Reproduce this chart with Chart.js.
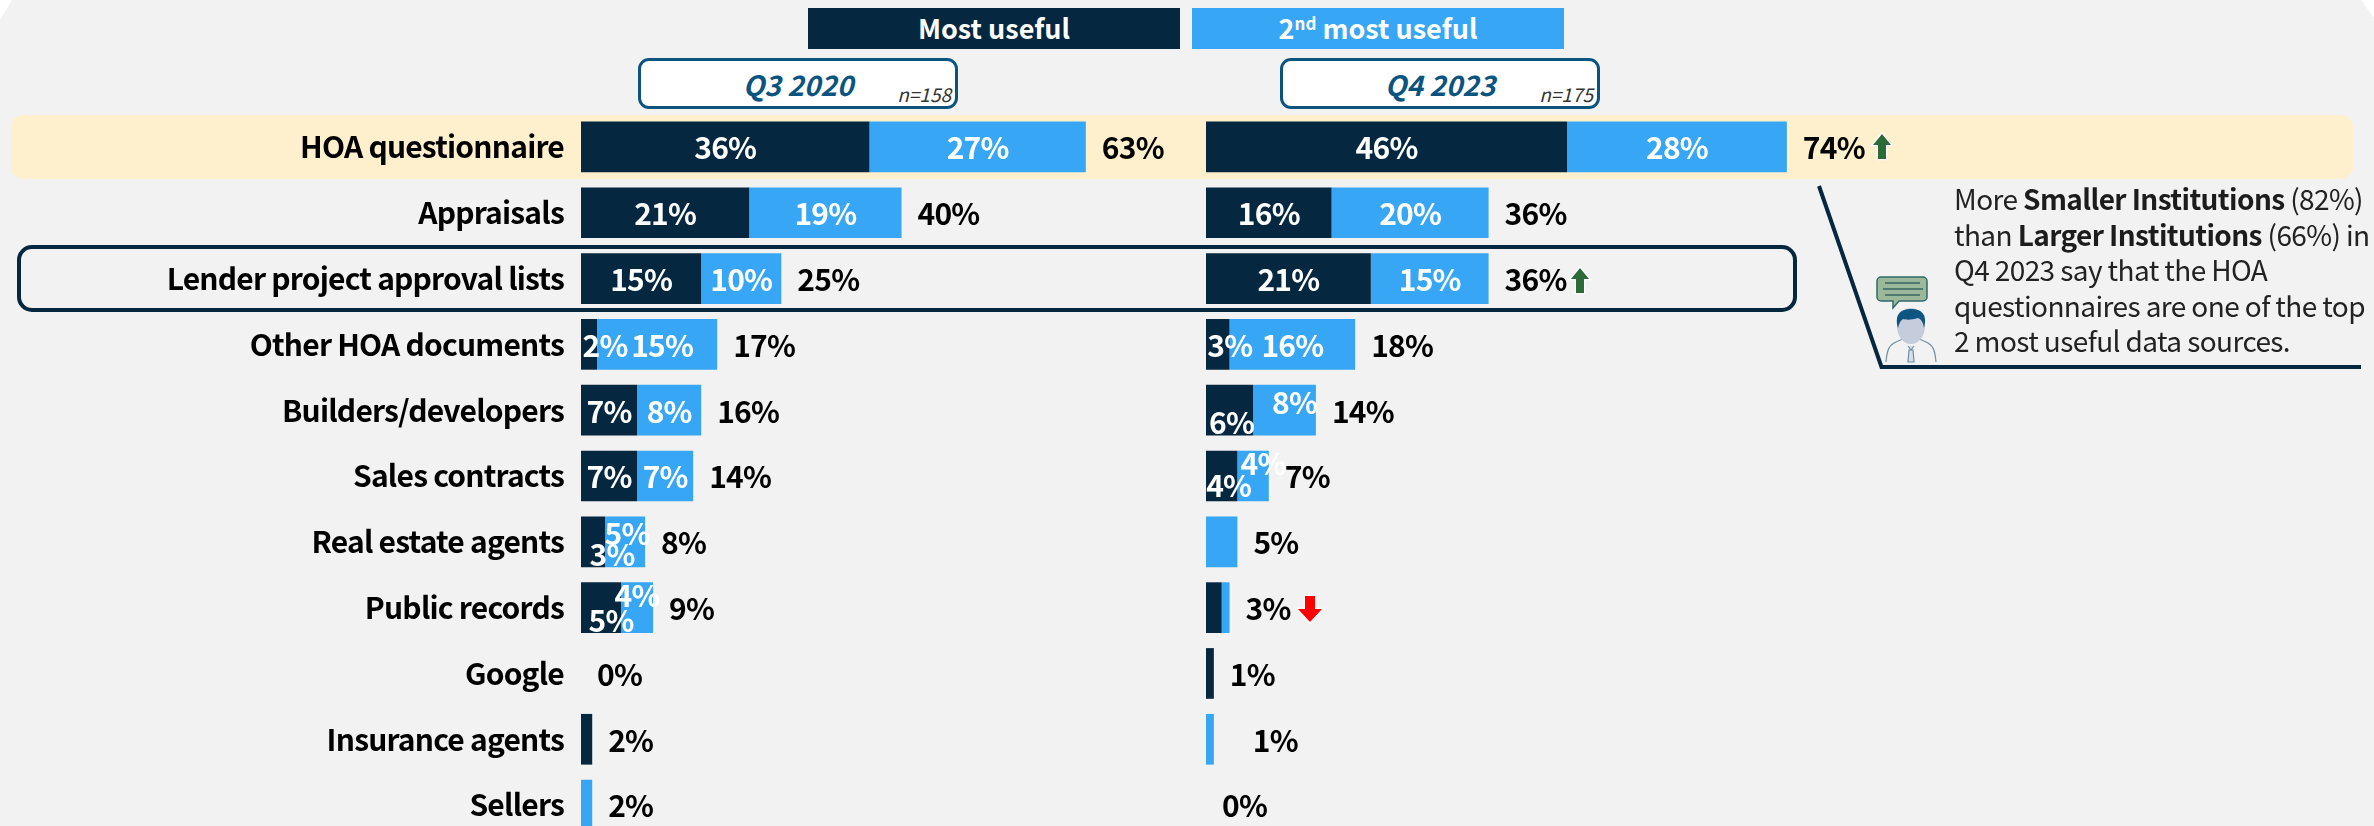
<!DOCTYPE html>
<html>
<head>
<meta charset="utf-8">
<script src="https://cdn.jsdelivr.net/npm/chart.js@4"></script>
<style>
  html, body { margin: 0; padding: 0; width: 2374px; height: 826px; overflow: hidden; background: #f2f2f2; }
  body { position: relative; font-family: "Noto Sans CJK SC", "Noto Sans", sans-serif; }
  canvas { position: absolute; top: 0; }
  .abs { position: absolute; box-sizing: border-box; }
  .legend { top: 8px; height: 41px; width: 372px; color: #fff; font-weight: 700; font-size: 27px; line-height: 39px; text-align: center; }
  .legend sup { font-size: 17px; line-height: 0; vertical-align: 9px; }
  .period { top: 58px; height: 51px; width: 320px; background: #fff; border: 3px solid #0b5480; border-radius: 11px; }
  .period b { position: absolute; left: 0; right: 0; top: 5px; text-align: center; color: #0b5480; font-style: italic; font-size: 28px; line-height: 36px; }
  .period i { position: absolute; right: 4px; top: 21px; color: #333; font-size: 19px; line-height: 24px; }
  #note { left: 1954px; top: 181px; width: 420px; font-size: 28px; letter-spacing: -0.6px; line-height: 35.5px; color: #222; white-space: nowrap; }
  #note b { color: #1c1c1c; }
</style>
</head>
<body>
<div class="abs" style="left:11px;top:115px;width:2342px;height:64px;background:#fff0cd;border-radius:12px"></div>
<div class="abs legend" style="left:808px;background:#05273f">Most useful</div>
<div class="abs legend" style="left:1192px;background:#37a6f4">2<sup>nd</sup> most useful</div>
<div class="abs period" style="left:638px"><b>Q3 2020</b><i>n=158</i></div>
<div class="abs period" style="left:1280px"><b>Q4 2023</b><i>n=175</i></div>

<canvas id="chartQ3" width="1190" height="860" style="left:0"></canvas>
<canvas id="chartQ4" width="1168" height="860" style="left:1206px"></canvas>

<div class="abs" style="left:17px;top:245px;width:1780px;height:67px;border:4px solid #05273f;border-radius:15px"></div>

<svg class="abs" style="left:0;top:0" width="2374" height="826">
  <!-- slide corners -->
  <path d="M0 0 H12 L0 20z M2361 0 H2374 V18z" fill="#fff"/>
  <!-- callout -->
  <path d="M1819 186 L1881.5 367 L2361 367" fill="none" stroke="#05273f" stroke-width="4"/>
  <path d="M1881 277 h42 a4 4 0 0 1 4 4 v16 a4 4 0 0 1 -4 4 h-24 l-6 7 v-7 h-12 a4 4 0 0 1 -4 -4 v-16 a4 4 0 0 1 4 -4z" fill="#9cb89a" stroke="#2f6b6a" stroke-width="1.5"/>
  <path d="M1885 283 h35 M1883 289 h40 M1885 295 h35" stroke="#4f7a6f" stroke-width="2"/>
  <path d="M1886 362 c1 -12 3 -17 10 -20 l9 -4 h12 l9 4 c7 3 9 8 10 20" fill="#f2f2f2" stroke="#6f8fa5" stroke-width="1.2"/>
  <path d="M1908 346 l3 4 3 -4 M1909 350 l-1 12 h6 l-1 -12z" fill="#d8deea" stroke="#6f8fa5" stroke-width="1.2"/>
  <ellipse cx="1911" cy="326" rx="14" ry="18" fill="#c5ccdc"/>
  <path d="M1898 328 c-4 -14 3 -19 13 -19 c10 0 17 5 13 19 c-1 -6 -3 -9 -6 -10 c-6 2 -12 2 -15 1 c-3 2 -4 5 -5 9z" fill="#0f5583"/>
  <!-- change arrows -->
  <path d="M1882 134 l9 11 h-5 v14 h-8 v-14 h-5z" fill="#2c6b37" stroke="#fff" stroke-width="2.5" paint-order="stroke"/>
  <path d="M1580 268 l9 11 h-5 v14 h-8 v-14 h-5z" fill="#2c6b37" stroke="#fff" stroke-width="2.5" paint-order="stroke"/>
  <path d="M1310 622 l-12 -13 h7 v-13 h10 v13 h7z" fill="#ff0000" stroke="#fff" stroke-width="2.5" paint-order="stroke"/>
</svg>

<div id="note" class="abs">More <b>Smaller Institutions</b> (82%)<br>than <b>Larger Institutions</b> (66%) in<br>Q4 2023 say that the HOA<br>questionnaires are one of the top<br>2 most useful data sources.</div>

<script>
const sources = ['HOA questionnaire', 'Appraisals', 'Lender project approval lists', 'Other HOA documents',
  'Builders/developers', 'Sales contracts', 'Real estate agents', 'Public records', 'Google', 'Insurance agents', 'Sellers'];

const q3Most = [36, 21, 15, 2, 7, 7, 3, 5, 0, 1.4, 0];
const q3Second = [27, 19, 10, 15, 8, 7, 5, 4, 0, 0, 1.4];
const q3MostLabels = ['36%', '21%', '15%', '2%', '7%', '7%', '3%', '5%', '', '', ''];
const q3SecondLabels = ['27%', '19%', '10%', '15%', '8%', '7%', '5%', '4%', '', '', ''];
const q3Totals = ['63%', '40%', '25%', '17%', '16%', '14%', '8%', '9%', '0%', '2%', '2%'];

const q4Most = [46, 16, 21, 3, 6, 4, 0, 2, 1, 0, 0];
const q4Second = [28, 20, 15, 16, 8, 4, 4, 1, 0, 1, 0];
const q4MostLabels = ['46%', '16%', '21%', '3%', '6%', '4%', '', '', '', '', ''];
const q4SecondLabels = ['28%', '20%', '15%', '16%', '8%', '4%', '', '', '', '', ''];
const q4Totals = ['74%', '36%', '36%', '18%', '14%', '7%', '5%', '3%', '1%', '1%', '0%'];

// labels that got nudged off centre in the original: row -> [dx, dy]
const q3MostNudge = { 3: [16, 0], 6: [19, 12], 7: [10, 12] };
const q3SecondNudge = { 3: [5, 0], 6: [2, -9], 7: [0, -13] };
const q4MostNudge = { 3: [12, 0], 4: [2, 11], 5: [7, 9] };
const q4SecondNudge = { 4: [10, -9], 5: [10, -13] };
const q4TotalNudge = { 9: [23, 0] };

const dark = '#05273f';
const light = '#37a6f4';
const fontName = '"Noto Sans CJK SC", "Noto Sans", sans-serif';
const labelFont = '700 30px ' + fontName;
const tightText = '-0.8px'; // the original face is narrower than the installed one

function barLabels(opts) {
  return {
    id: 'barLabels',
    beforeDraw(chart) {
      chart.ctx.letterSpacing = tightText;
    },
    afterDatasetsDraw(chart) {
      const ctx = chart.ctx;
      const most = chart.getDatasetMeta(0).data;
      const second = chart.getDatasetMeta(1).data;
      ctx.save();
      ctx.font = labelFont;
      ctx.textBaseline = 'middle';
      sources.forEach((s, i) => {
        const m = opts.mostNudge[i] || [0, 0];
        const n = opts.secondNudge[i] || [0, 0];
        const t = (opts.totalNudge || {})[i] || [0, 0];
        ctx.fillStyle = '#fff';
        ctx.textAlign = 'center';
        ctx.fillText(opts.most[i], (most[i].base + most[i].x) / 2 + m[0], most[i].y + 1 + m[1]);
        ctx.fillText(opts.second[i], (second[i].base + second[i].x) / 2 + n[0], second[i].y + 1 + n[1]);
        ctx.fillStyle = '#000';
        ctx.textAlign = 'left';
        ctx.fillText(opts.totals[i], Math.max(most[i].x, second[i].x) + 16 + t[0], most[i].y + 1 + t[1]);
      });
      ctx.restore();
    }
  };
}

function makeChart(id, most, second, xMax, showSources, labels) {
  return new Chart(document.getElementById(id), {
    type: 'bar',
    data: {
      labels: sources,
      datasets: [
        { label: 'Most useful', data: most, backgroundColor: dark, borderWidth: 0, categoryPercentage: 1, barPercentage: 0.77 },
        { label: '2nd most useful', data: second, backgroundColor: light, borderWidth: 0, categoryPercentage: 1, barPercentage: 0.77 }
      ]
    },
    options: {
      indexAxis: 'y',
      responsive: false,
      animation: false,
      layout: { autoPadding: false, padding: { top: 114, bottom: 22 } },
      plugins: { legend: { display: false }, tooltip: { enabled: false } },
      scales: {
        x: { stacked: true, display: false, min: 0, max: xMax },
        y: {
          stacked: true,
          display: showSources,
          grid: { display: false },
          border: { display: false },
          afterFit: s => {
            if (showSources) {
              s.width = 581;
              s.paddingTop = 0;
              s.paddingBottom = 0;
            }
          },
          ticks: { color: '#000', padding: 9, autoSkip: false, font: { family: fontName, size: 30, weight: '700' } }
        }
      }
    },
    plugins: [barLabels(labels)]
  });
}

const chartQ3 = makeChart('chartQ3', q3Most, q3Second, 76, true,
  { most: q3MostLabels, second: q3SecondLabels, totals: q3Totals, mostNudge: q3MostNudge, secondNudge: q3SecondNudge });
const chartQ4 = makeChart('chartQ4', q4Most, q4Second, 148.8, false,
  { most: q4MostLabels, second: q4SecondLabels, totals: q4Totals, mostNudge: q4MostNudge, secondNudge: q4SecondNudge, totalNudge: q4TotalNudge });
</script>
</body>
</html>
